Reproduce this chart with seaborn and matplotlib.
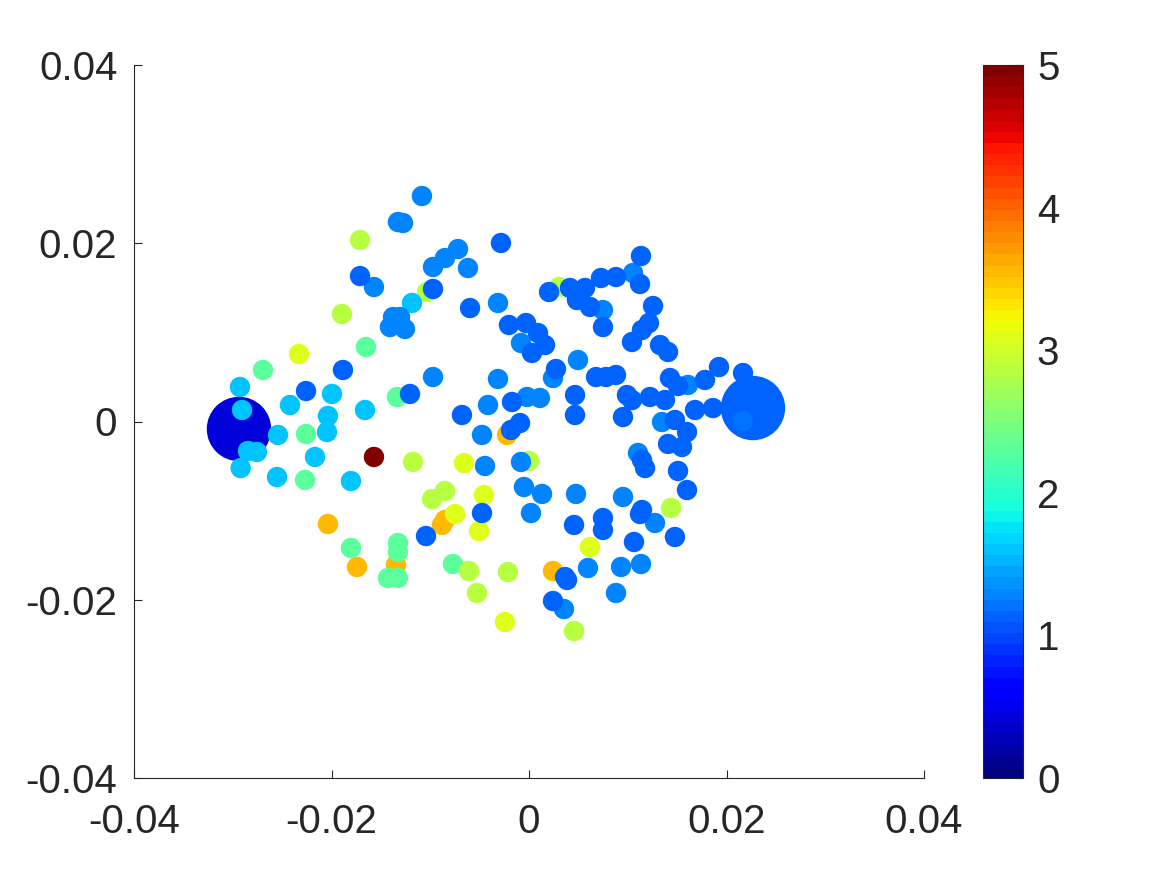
import numpy as np
import pandas as pd
import matplotlib
matplotlib.use("Agg")
import matplotlib.pyplot as plt
import seaborn as sns
from matplotlib.colors import Normalize
from matplotlib.cm import ScalarMappable

# ---- data (coordinates in units of 1e-3) ----
hub_x = [-29.37, 22.68]
hub_y = [-0.84, 1.51]
hub_v = [0.46, 1.10]

orange_x = [-20.36, -17.42, -13.47, -2.23, -8.81, -8.51, 2.43]
orange_y = [-11.50, -16.32, -16.10, -1.51, -11.61, -11.05, -16.77]
orange_v = 3.55

teal_x = [-22.58, -22.68, -16.51, -26.94, -13.37, -18.03, -13.27, -13.27, -14.28, -13.27, -7.70]
teal_y = [-1.40, -6.56, 8.36, 5.78, 2.75, -14.19, -13.63, -14.64, -17.56, -17.56, -15.99]
teal_v = 2.27

lime_x = [-18.94, -17.11, -10.33, -11.75, 0.00, -9.82, -8.51, -6.08, -2.13, -5.27, 4.56, 3.04, 14.38]
lime_y = [12.06, 20.36, 14.53, -4.54, -4.43, -8.70, -7.80, -16.77, -16.89, -19.24, -23.51, 15.09, -9.71]
lime_v = 2.88

yellow_x = [-23.29, -6.58, -4.56, -5.06, -7.49, 6.18, -2.43]
yellow_y = [7.57, -4.66, -8.25, -12.29, -10.38, -14.08, -22.50]
yellow_v = 3.12

red_x = [-15.70]
red_y = [-3.98]
red_v = 5.0

cyan_x = [-29.27, -29.06, -29.20, -28.46, -27.55, -25.42, -25.52, -24.20, -21.67, -20.36,
          -20.46, -19.95, -16.61, -18.03, -11.85]
cyan_y = [3.87, 1.29, -5.22, -3.31, -3.42, -1.51, -6.23, 1.85, -3.98, 0.62,
          -1.18, 3.09, 1.29, -6.68, 13.30]
cyan_v = 1.60

sky_x = [-15.70, -13.77, -14.08, -13.27, -12.76, -10.84, -13.06, -12.56, -9.72, -8.51,
         -7.19, -6.18, -3.14, -9.72, -3.14, -4.15, -0.20, 1.11, -4.76, -4.46,
         -0.81, -0.51, 1.32, 4.76, 0.20, 5.97, 3.54, 7.49, -0.81, 4.96,
         2.43, 10.53, 16.10, 13.47, 11.04, 9.52, 12.76, 9.32, 11.34, 8.81]
sky_y = [15.09, 11.72, 10.60, 22.38, 22.27, 25.30, 11.72, 10.38, 17.34, 18.34,
         19.35, 17.22, 13.30, 4.99, 4.77, 1.85, 2.75, 2.64, -1.51, -4.99,
         -4.54, -7.35, -8.13, -8.13, -10.27, -16.44, -21.04, 12.51, 8.81, 6.90,
         4.88, 16.66, 4.10, -0.06, -3.53, -8.47, -11.39, -16.32, -15.99, -19.24]
sky_v = 1.30

faint_x = [21.67]
faint_y = [0.06]
faint_v = 1.20

blue_x = [-22.58, -17.11, -18.84, -12.05, -9.72, -2.84, -5.97, -6.79, -1.72, -1.82,
          -0.91, -4.76, -10.43, 4.56, 3.65, 3.85, 2.43, 4.66, 4.66, 2.03,
          4.15, 5.67, 7.29, 4.86, 6.18, 7.49, -2.03, -0.30, 0.91, 1.62,
          0.30, 2.73, 6.79, 7.80, 8.81, 11.34, 8.81, 11.24, 12.56, 12.15,
          11.44, 10.43, 13.27, 14.08, 19.24, 21.67, 9.92, 10.43, 9.52, 12.25,
          13.77, 14.28, 15.09, 17.82, 18.63, 16.81, 14.78, 16.00, 14.08, 15.49,
          11.44, 11.75, 15.09, 16.00, 11.44, 11.24, 14.78, 7.49, 7.49, 10.63]
blue_y = [3.42, 16.32, 5.78, 3.09, 14.87, 20.03, 12.73, 0.73, 2.19, -0.95,
          -0.17, -10.27, -12.85, -11.61, -17.45, -17.78, -20.14, 2.97, 0.73, 14.53,
          14.98, 14.98, 16.10, 13.63, 12.85, 10.60, 10.83, 11.05, 9.93, 8.58,
          7.69, 5.89, 4.99, 4.99, 5.22, 18.57, 16.21, 15.43, 12.96, 11.05,
          10.27, 8.92, 8.58, 7.80, 6.11, 5.44, 2.97, 2.41, 0.50, 2.75,
          2.41, 4.88, 3.98, 4.66, 1.51, 1.29, 0.17, -1.18, -2.52, -2.86,
          -4.32, -5.22, -5.55, -7.69, -9.93, -10.38, -12.96, -10.83, -12.17, -13.52]
blue_v = 1.15

xticks = [-0.04, -0.02, 0, 0.02, 0.04]
xtick_labels = ["-0.04", "-0.02", "0", "0.02", "0.04"]
yticks = [-0.04, -0.02, 0, 0.02, 0.04]
ytick_labels = ["-0.04", "-0.02", "0", "0.02", "0.04"]
cbar_ticks = [0, 1, 2, 3, 4, 5]

# ---- build table (draw order = row order) ----
frames = [pd.DataFrame({"x": hub_x, "y": hub_y, "value": hub_v, "kind": "hub"})]
for gx, gy, gv in [(orange_x, orange_y, orange_v), (teal_x, teal_y, teal_v),
                   (lime_x, lime_y, lime_v), (yellow_x, yellow_y, yellow_v),
                   (red_x, red_y, red_v), (cyan_x, cyan_y, cyan_v),
                   (sky_x, sky_y, sky_v), (faint_x, faint_y, faint_v),
                   (blue_x, blue_y, blue_v)]:
    frames.append(pd.DataFrame({"x": gx, "y": gy, "value": gv, "kind": "node"}))
df = pd.concat(frames, ignore_index=True)
df["x"] = df["x"] * 1e-3
df["y"] = df["y"] * 1e-3

sns.set_style("white")
plt.rcParams["font.family"] = ["Liberation Sans", "DejaVu Sans"]
plt.rcParams["axes.unicode_minus"] = False

dark = "#262626"
cmap = plt.get_cmap("jet", 64)

fig = plt.figure(figsize=(11.67, 8.75), dpi=100)
ax = fig.add_axes([134 / 1167, 97 / 875, 790 / 1167, 713 / 875])

sns.scatterplot(data=df, x="x", y="y", hue="value", palette=cmap, hue_norm=(0, 5),
                size="kind", sizes={"node": 215, "hub": 2150}, linewidth=0,
                legend=False, ax=ax)

ax.set_xlim(-0.04, 0.04)
ax.set_ylim(-0.04, 0.04)
ax.set_xticks(xticks)
ax.set_xticklabels(xtick_labels)
ax.set_yticks(yticks)
ax.set_yticklabels(ytick_labels)
ax.set_xlabel("")
ax.set_ylabel("")
for s in ["top", "right"]:
    ax.spines[s].set_visible(False)
for s in ["left", "bottom"]:
    ax.spines[s].set_color(dark)
    ax.spines[s].set_linewidth(0.8)
ax.tick_params(direction="in", length=6, width=0.8, color=dark, labelcolor=dark,
               labelsize=29, bottom=True, left=True, top=False, right=False)
ax.tick_params(axis="y", pad=12)
ax.tick_params(axis="x", pad=18)

cax = fig.add_axes([983 / 1167, 97 / 875, 40 / 1167, 713 / 875])
sm = ScalarMappable(norm=Normalize(0, 5), cmap=cmap)
cb = fig.colorbar(sm, cax=cax, ticks=cbar_ticks)
cb.outline.set_edgecolor(dark)
cb.outline.set_linewidth(0.8)
cax.tick_params(direction="in", length=6, width=0.8, color=dark, labelcolor=dark,
                labelsize=29, right=True, left=False, pad=10)
cax.set_yticklabels([str(t) for t in cbar_ticks])

fig.savefig("out.png", dpi=100, facecolor="white")
